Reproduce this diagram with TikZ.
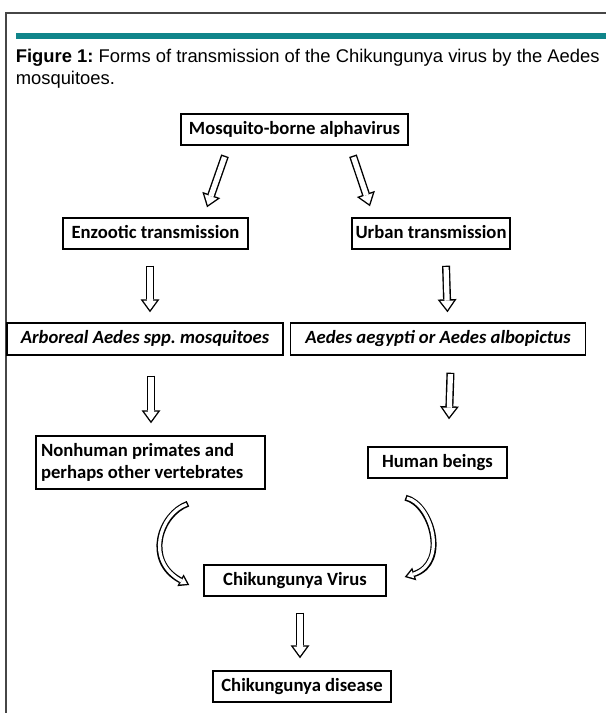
\documentclass[tikz,border=0pt]{standalone}
\usepackage{fontspec}
\setmainfont{Liberation Sans}
\newfontfamily\boxfont{Carlito}
\usetikzlibrary{
    positioning,      % For placing nodes relative to each other
    arrows.meta,      % Triangle tips for the hollow arrows
    calc              % For shifted anchors
}
\definecolor{tealbar}{RGB}{16,133,138}
\definecolor{framegray}{RGB}{70,70,70}
\frenchspacing

\begin{document}
\begin{tikzpicture}[
    % one unit is one pixel of the figure, y runs downwards
    x=0.75pt, y=-0.75pt,
    box_style/.style={
        draw, line width=1.1pt,
        font=\boxfont\bfseries\fontsize{14}{16.5}\selectfont,
        inner sep=0pt, minimum height=23.25pt,
        text height=9.8pt, text depth=3pt
    },
    species_style/.style={ % boxes with the mosquito names (italic)
        box_style,
        font=\boxfont\bfseries\itshape\fontsize{14}{16.5}\selectfont,
        minimum height=24pt
    },
    block_arrow/.style={ % hollow arrow: black pass first, white pass on top
        draw=white, line width=3.9pt,
        -{Triangle[length=6.9pt, width=10.1pt, line width=0pt]},
        shorten <=1.05pt, shorten >=1.78pt,
        preaction={draw=black, line width=6pt, shorten <=0pt, shorten >=0pt,
            -{Triangle[length=9.75pt, width=14.25pt, line width=0pt]}}
    },
    bend_arrow/.style={ % the thinner curved hollow arrows
        draw=white, line width=2.4pt,
        -{Triangle[length=4.6pt, width=6.1pt, line width=0pt]},
        shorten <=1.05pt, shorten >=1.9pt,
        preaction={draw=black, line width=4.5pt, shorten <=0pt, shorten >=0pt,
            -{Triangle[length=7.5pt, width=10pt, line width=0pt]}}
    }
]
    \useasboundingbox (0,0) rectangle (606,713);

    % 1. Frame, bar and caption.
    \draw[framegray, line width=1pt] (606,13) -- (6,13) -- (6,713);
    \fill[tealbar] (15.5,33) rectangle (606,39);
    \node[anchor=base west, align=flush left, inner sep=0pt, font=\fontsize{13.8}{16.5}\selectfont] (caption) at (15.5,85)
        {\textbf{Figure 1:} Forms of transmission of the Chikungunya virus by the Aedes\\mosquitoes.};

    % 2. The boxes.
    \node[box_style, minimum width=170.25pt] (mosquito) at (294.5,129.5) {Mosquito-borne alphavirus};
    \node[box_style, minimum width=138.75pt] (enzootic) at (155.5,233.5) {Enzootic transmission};
    \node[box_style, minimum width=118.5pt] (urban) at (431,233.5) {Urban transmission};
    \node[species_style, minimum width=207pt] (arboreal) at (145,339) {Arboreal Aedes spp. mosquitoes};
    \node[species_style, minimum width=221.25pt, right=4.5pt of arboreal] (aegypti) {Aedes aegypti or Aedes albopictus};
    \node[box_style, minimum width=171.75pt, minimum height=39.75pt, text width=164.25pt, align=flush left,
        text height=, text depth=] (nonhuman) at (150.5,462.5)
        {Nonhuman primates and\\perhaps other vertebrates};
    \node[box_style, minimum width=104.25pt] (human) at (437.5,462.5) {Human beings};
    \node[box_style, minimum width=136.5pt] (virus) at (295,580.5) {Chikungunya Virus};
    \node[box_style, minimum width=133.5pt] (disease) at (302,686.5) {Chikungunya disease};

    % 3. Straight hollow arrows, kept clear of the boxes.
    \draw[block_arrow] ($(mosquito.south)+(-69.5,10)$) -- ($(enzootic.north)+(51.5,-10)$);
    \draw[block_arrow] ($(mosquito.south)+(58.5,10)$) -- ($(urban.north)+(-61,-11)$);
    \draw[block_arrow] ($(enzootic.south)+(-5.5,16)$) -- ($(arboreal.north)+(5,-10)$);
    \draw[block_arrow] ($(urban.south)+(15,16)$) -- ($(aegypti.north)+(9.5,-10)$);
    \draw[block_arrow] ($(arboreal.south)+(6,20)$) -- ($(nonhuman.north)+(0.5,-12)$);
    \draw[block_arrow] ($(aegypti.south)+(12.5,17)$) -- ($(human.north)+(11.5,-27)$);
    \draw[block_arrow] ($(virus.south)+(5,16)$) -- ($(disease.north)+(-2,-12)$);

    % 4. Curved arrows into the virus box.
    \coordinate (left_bend_start) at ($(nonhuman.south)+(37.5,14)$);
    \coordinate (left_bend_end) at ($(virus.west)+(-14,4.5)$);
    \coordinate (right_bend_start) at ($(human.south)+(-32,19)$);
    \coordinate (right_bend_end) at ($(virus.east)+(18,-3.5)$);
    \draw[bend_arrow] (left_bend_start) .. controls +(-28,10) and +(-45,-24) .. (left_bend_end);
    \draw[bend_arrow] (right_bend_start) .. controls +(26,6) and +(44,-14) .. (right_bend_end);
\end{tikzpicture}
\end{document}
